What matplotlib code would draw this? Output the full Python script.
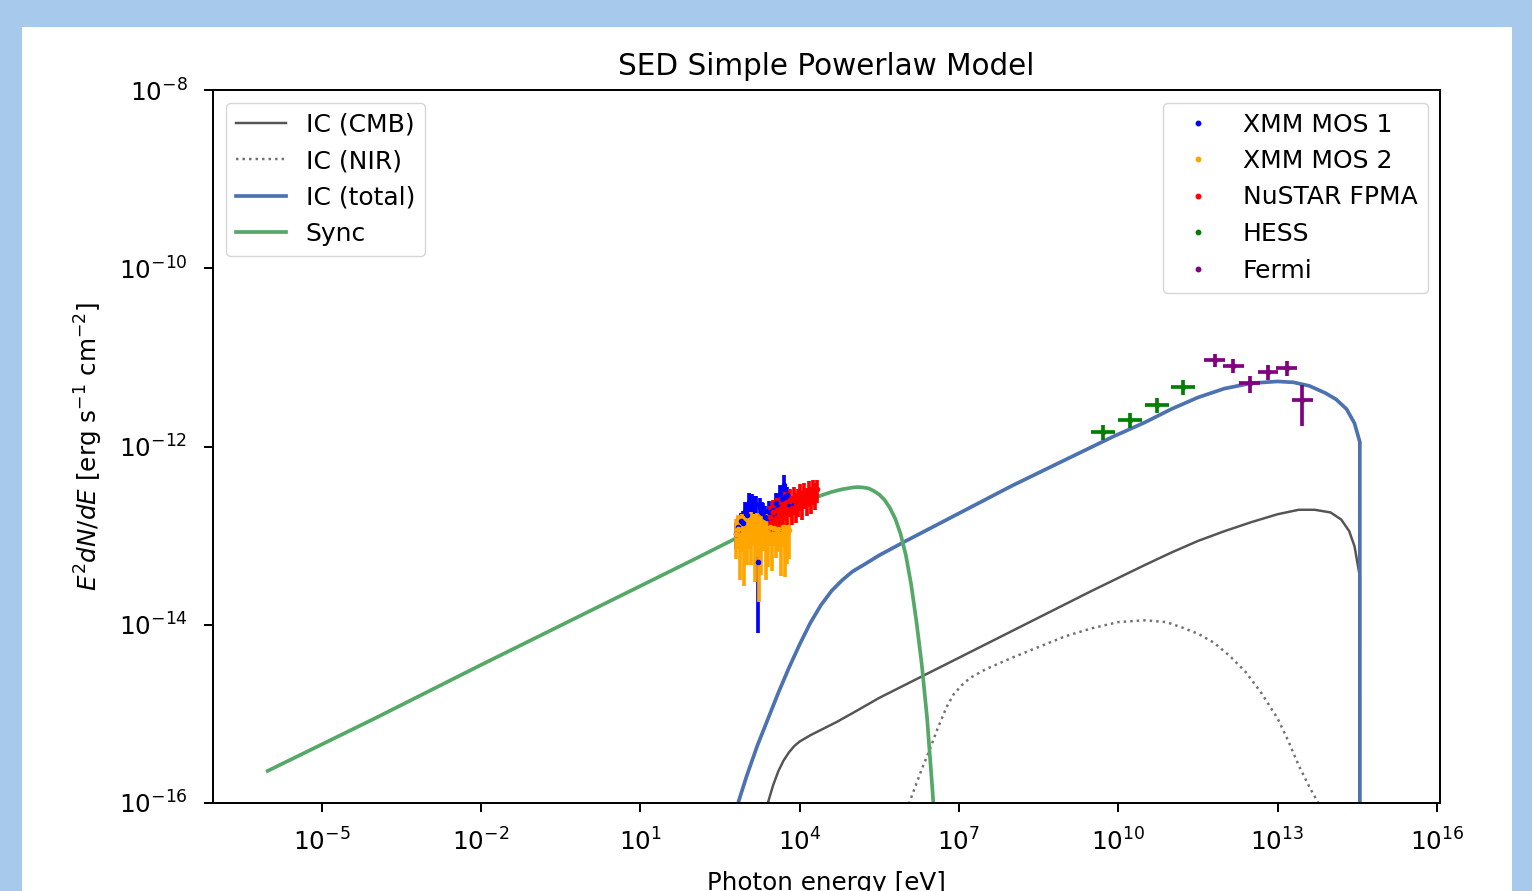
import numpy as np
import matplotlib
matplotlib.use("Agg")
import matplotlib.pyplot as plt
from matplotlib.lines import Line2D
from matplotlib.patches import Rectangle

# ---------------- model curves (log10 values) ----------------
sync_logE = [-6.02, -4.0, -2.0, 0.0, 2.0, 3.0, 4.0, 4.2, 4.4, 4.6, 4.8, 5.0, 5.1, 5.2, 5.3,
             5.4, 5.5, 5.6, 5.7, 5.8, 5.9, 6.0, 6.1, 6.2, 6.3, 6.4, 6.5, 6.55]
sync_logF = [-15.64, -15.05, -14.45, -13.86, -13.27, -12.97, -12.66, -12.60, -12.55, -12.51,
             -12.48, -12.46, -12.455, -12.46, -12.47, -12.50, -12.54, -12.60, -12.69, -12.81,
             -12.98, -13.22, -13.55, -13.97, -14.45, -15.05, -15.85, -16.3]

ictot_logE = [2.78, 2.84, 3.0, 3.2, 3.4, 3.6, 3.8, 4.0, 4.2, 4.4, 4.6, 4.8, 5.0, 5.2, 5.5,
              6.0, 7.0, 8.0, 9.0, 9.9, 10.5, 11.0, 11.5, 12.0, 12.5, 13.0, 13.3, 13.6, 13.9,
              14.1, 14.3, 14.45, 14.55, 14.551]
ictot_logF = [-16.3, -16.0, -15.70, -15.36, -15.06, -14.76, -14.48, -14.22, -13.98, -13.78,
              -13.62, -13.50, -13.40, -13.33, -13.22, -13.06, -12.75, -12.44, -12.15, -11.89,
              -11.73, -11.58, -11.45, -11.35, -11.29, -11.27, -11.28, -11.32, -11.40, -11.47,
              -11.58, -11.74, -11.95, -20.0]

iccmb_logE = [3.35, 3.40, 3.5, 3.6, 3.7, 3.8, 3.9, 4.0, 4.2, 4.4, 4.7, 5.0, 5.5, 6.5, 7.5,
              8.5, 9.5, 10.5, 11.0, 11.5, 12.0, 12.5, 13.0, 13.4, 13.7, 14.0, 14.2, 14.35,
              14.45, 14.55, 14.551]
iccmb_logF = [-16.2, -16.0, -15.80, -15.64, -15.52, -15.43, -15.36, -15.31, -15.24, -15.18,
              -15.09, -14.99, -14.82, -14.52, -14.22, -13.92, -13.62, -13.33, -13.19, -13.06,
              -12.95, -12.85, -12.76, -12.71, -12.71, -12.74, -12.82, -12.95, -13.12, -13.46,
              -20.0]

icnir_logE = [5.98, 6.07, 6.2, 6.3, 6.45, 6.6, 6.77, 6.9, 7.05, 7.2, 7.5, 8.0, 8.5, 9.0, 9.5,
              10.0, 10.5, 10.9, 11.2, 11.5, 11.8, 12.1, 12.4, 12.7, 13.0, 13.2, 13.4, 13.6,
              13.76, 13.85]
icnir_logF = [-16.3, -15.99, -15.78, -15.62, -15.40, -15.16, -14.92, -14.78, -14.68, -14.60,
              -14.50, -14.37, -14.25, -14.13, -14.04, -13.97, -13.95, -13.97, -14.03, -14.10,
              -14.20, -14.35, -14.53, -14.77, -15.05, -15.30, -15.58, -15.82, -15.99, -16.2]

# ---------------- data points ----------------
mos1_E = [620, 680, 740, 800, 870, 940, 1020, 1100, 1190, 1290, 1400, 1520, 1640, 1780, 1920,
          2080, 2250, 2440, 2640, 2860, 3100, 3350, 3630, 3930, 4250, 4600, 4980, 5390, 5830,
          6310, 6830]
mos1_F = [1.05e-13, 1.26e-13, 1.20e-13, 1.45e-13, 1.38e-13, 1.91e-13, 1.70e-13, 2.40e-13,
          2.20e-13, 2.34e-13, 2.05e-13, 2.24e-13, 5.0e-14, 2.09e-13, 1.80e-13, 1.86e-13,
          1.60e-13, 1.58e-13, 1.85e-13, 1.60e-13, 1.95e-13, 1.80e-13, 2.35e-13, 2.10e-13,
          2.90e-13, 2.60e-13, 3.70e-13, 2.70e-13, 2.82e-13, 2.20e-13, 2.24e-13]
mos1_err = [3.5e-14, 3.1e-14, 4.4e-14, 3.6e-14, 4.9e-14, 4.8e-14, 6.2e-14, 6.0e-14,
            7.3e-14, 5.9e-14, 7.0e-14, 5.6e-14, 4.2e-14, 5.2e-14, 6.0e-14, 4.7e-14,
            5.4e-14, 4.0e-14, 5.8e-14, 5.4e-14, 5.0e-14, 6.6e-14, 6.3e-14, 8.0e-14,
            7.9e-14, 9.7e-14, 1.1e-13, 9.3e-14, 7.0e-14, 7.3e-14, 5.6e-14]

mos2_E = [631, 692, 759, 832, 912, 1000, 1096, 1202, 1318, 1445, 1585, 1738, 1905, 2089,
          2291, 2512, 2754, 3020, 3311, 3631, 3981, 4365, 4786, 5248, 5754, 6310]
mos2_F = [1.05e-13, 1.20e-13, 1.00e-13, 1.20e-13, 0.97e-13, 1.07e-13, 1.25e-13, 1.15e-13,
          1.27e-13, 1.02e-13, 1.18e-13, 0.93e-13, 1.06e-13, 1.22e-13, 1.00e-13, 1.10e-13,
          1.25e-13, 1.05e-13, 1.22e-13, 1.08e-13, 1.20e-13, 0.98e-13, 1.25e-13, 1.02e-13,
          1.08e-13, 1.15e-13]
mos2_err = [5.0e-14, 5.0e-14, 6.8e-14, 5.5e-14, 7.0e-14, 6.0e-14, 5.5e-14, 6.8e-14,
            5.0e-14, 7.2e-14, 6.0e-14, 7.5e-14, 7.0e-14, 5.5e-14, 6.8e-14, 6.5e-14,
            4.8e-14, 6.5e-14, 4.5e-14, 5.2e-14, 5.5e-14, 6.3e-14, 5.0e-14, 6.8e-14,
            6.0e-14, 6.0e-14]

nustar_E = [2820, 3090, 3390, 3720, 4070, 4470, 4900, 5370, 5890, 6460, 7080, 7760, 8510,
            9330, 10230, 11220, 12300, 13490, 14790, 16220, 17780, 19500, 21380]
nustar_F = [1.60e-13, 1.85e-13, 1.55e-13, 1.95e-13, 1.75e-13, 2.05e-13, 1.80e-13, 2.30e-13,
            2.00e-13, 2.45e-13, 2.05e-13, 2.60e-13, 2.20e-13, 2.45e-13, 2.85e-13, 2.35e-13,
            2.95e-13, 2.55e-13, 3.10e-13, 2.65e-13, 3.20e-13, 2.90e-13, 3.30e-13]
nustar_err = [5.5e-14, 6.5e-14, 5.5e-14, 7.0e-14, 6.5e-14, 7.0e-14, 6.5e-14, 8.0e-14,
              7.0e-14, 8.5e-14, 7.5e-14, 9.0e-14, 8.0e-14, 8.5e-14, 9.5e-14, 8.5e-14,
              9.5e-14, 9.0e-14, 1.0e-13, 9.0e-14, 1.0e-13, 9.5e-14, 9.5e-14]

hess_E = [5.13e9, 1.66e10, 5.37e10, 1.66e11]
hess_F = [1.45e-12, 2.00e-12, 2.95e-12, 4.68e-12]
hess_Elo = [2.1e9, 6.8e9, 2.2e10, 6.8e10]
hess_Ehi = [3.6e9, 1.16e10, 3.8e10, 1.16e11]
hess_Ferr = [2.8e-13, 3.8e-13, 5.6e-13, 9.0e-13]

fermi_E = [6.6e11, 1.45e12, 3.0e12, 6.6e12, 1.48e13, 2.9e13]
fermi_F = [9.3e-12, 8.1e-12, 5.1e-12, 6.9e-12, 7.6e-12, 3.3e-12]
fermi_Elo = [2.4e11, 5.3e11, 1.1e12, 2.4e12, 5.4e12, 1.0e13]
fermi_Ehi = [3.8e11, 8.4e11, 1.7e12, 3.8e12, 8.5e12, 1.7e13]
fermi_Ferr = [1.6e-12, 1.4e-12, 1.1e-12, 1.3e-12, 1.4e-12, 1.6e-12]

model_labels = ["IC (CMB)", "IC (NIR)", "IC (total)", "Sync"]
data_labels = ["XMM MOS 1", "XMM MOS 2", "NuSTAR FPMA", "HESS", "Fermi"]
data_colors = ["blue", "orange", "red", "green", "purple"]

x_ticks = [1e-5, 1e-2, 1e1, 1e4, 1e7, 1e10, 1e13, 1e16]
y_ticks = [1e-16, 1e-14, 1e-12, 1e-10, 1e-8]

S = 1.77
plt.rcParams.update({
    "font.family": "DejaVu Sans",
    "font.size": 10 * S,
    "axes.linewidth": 0.8 * S,
    "xtick.major.size": 3.5 * S,
    "ytick.major.size": 3.5 * S,
    "xtick.major.width": 0.8 * S,
    "ytick.major.width": 0.8 * S,
    "xtick.major.pad": 12.0,
    "ytick.major.pad": 12.0,
})

W, H = 1532, 891
fig = plt.figure(figsize=(W / 100, H / 100), dpi=100, facecolor="#A6C9EC")
fig.add_artist(Rectangle((22 / W, 0), 1 - 22 / W - 20 / W, 1 - 27 / H,
                         transform=fig.transFigure, facecolor="white",
                         edgecolor="none", zorder=-10))

ax = fig.add_axes([213 / W, 1 - 803 / H, (1440 - 213) / W, (803 - 90) / H])
ax.set_xscale("log")
ax.set_yscale("log")

def p10(a):
    return 10.0 ** np.asarray(a)

l_cmb, = ax.plot(p10(iccmb_logE), p10(iccmb_logF), color="#555555", lw=1.0 * S,
                 label=model_labels[0])
l_nir, = ax.plot(p10(icnir_logE), p10(icnir_logF), color="#707070", lw=1.0 * S, ls=":",
                 label=model_labels[1])
l_tot, = ax.plot(p10(ictot_logE), p10(ictot_logF), color="#4C72B0", lw=1.5 * S,
                 label=model_labels[2])
l_syn, = ax.plot(p10(sync_logE), p10(sync_logF), color="#55A868", lw=1.5 * S,
                 label=model_labels[3])

ekw = dict(fmt=".", ms=6, elinewidth=1.5 * S, capsize=0)
ax.errorbar(mos1_E, mos1_F, yerr=mos1_err, color=data_colors[0], **ekw)
ax.errorbar(mos2_E, mos2_F, yerr=mos2_err, color=data_colors[1], **ekw)
ax.errorbar(nustar_E, nustar_F, yerr=nustar_err, color=data_colors[2], **ekw)
ax.errorbar(hess_E, hess_F, xerr=[hess_Elo, hess_Ehi], yerr=hess_Ferr,
            color=data_colors[3], **ekw)
ax.errorbar(fermi_E, fermi_F, xerr=[fermi_Elo, fermi_Ehi], yerr=fermi_Ferr,
            color=data_colors[4], **ekw)

ax.set_xlim(10**-7.05, 10**16.06)
ax.set_ylim(1e-16, 1e-8)
ax.set_xticks(x_ticks)
ax.set_yticks(y_ticks)
ax.minorticks_off()

ax.set_title("SED Simple Powerlaw Model", fontsize=12 * S, pad=6 * S)
ax.set_xlabel("Photon energy [eV]", fontsize=10 * S, labelpad=11.5)
ax.set_ylabel(r"$E^2 dN/dE$ [erg s$^{-1}$ cm$^{-2}$]", fontsize=10 * S, labelpad=10)

leg1 = ax.legend(handles=[l_cmb, l_nir, l_tot, l_syn], loc="upper left", fontsize=18)
ax.add_artist(leg1)
handles = [Line2D([], [], ls="none", marker="o", ms=3.2, color=c) for c in data_colors]
ax.legend(handles, data_labels, loc="upper right", fontsize=18)

fig.savefig("out.png", dpi=100, facecolor=fig.get_facecolor())
